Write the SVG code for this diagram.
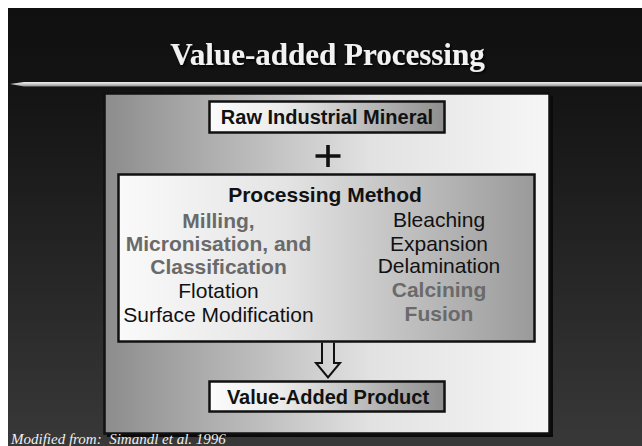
<svg xmlns="http://www.w3.org/2000/svg" width="642" height="446" viewBox="0 0 642 446">
  <defs>
    <linearGradient id="bg" x1="0" y1="0" x2="0" y2="1">
      <stop offset="0" stop-color="#101010"/>
      <stop offset="0.2" stop-color="#141414"/>
      <stop offset="1" stop-color="#383838"/>
    </linearGradient>
    <linearGradient id="rule" x1="0" y1="0" x2="0" y2="1">
      <stop offset="0" stop-color="#f0f0f0"/>
      <stop offset="0.5" stop-color="#c8c8c8"/>
      <stop offset="1" stop-color="#8a8a8a"/>
    </linearGradient>
    <linearGradient id="panelFill" x1="0" y1="0" x2="1" y2="0">
      <stop offset="0" stop-color="#8c8c8c"/>
      <stop offset="0.6" stop-color="#e2e2e2"/>
      <stop offset="1" stop-color="#f6f6f6"/>
    </linearGradient>
    <linearGradient id="boxFill" x1="0" y1="0" x2="1" y2="0">
      <stop offset="0" stop-color="#fbfbfb"/>
      <stop offset="0.3" stop-color="#ececec"/>
      <stop offset="1" stop-color="#8e8e8e"/>
    </linearGradient>
    <linearGradient id="procFill" x1="0" y1="0" x2="1" y2="0">
      <stop offset="0" stop-color="#fafafa"/>
      <stop offset="0.4" stop-color="#e4e4e4"/>
      <stop offset="1" stop-color="#9a9a9a"/>
    </linearGradient>
    <filter id="tshadow" x="-5%" y="-20%" width="110%" height="140%">
      <feDropShadow dx="1.5" dy="1.5" stdDeviation="0.8" flood-color="#000" flood-opacity="0.9"/>
    </filter>
  </defs>
  <style>
    .title { font-family: "Liberation Serif", "Times New Roman", serif; font-weight: bold; font-size: 31px; fill: #f2f2f2; }
    .foot { font-family: "Liberation Serif", "Times New Roman", serif; font-style: italic; font-size: 15px; fill: #f0f0f0; white-space: pre; }
    .box { stroke: #111; stroke-width: 2.5; }
    .lbl { font-family: "Liberation Sans", Arial, sans-serif; font-weight: bold; font-size: 20px; fill: #111; text-anchor: middle; }
    .item { font-family: "Liberation Sans", Arial, sans-serif; font-size: 21px; fill: #111; text-anchor: middle; }
    .hot { font-family: "Liberation Sans", Arial, sans-serif; font-size: 21px; font-weight: bold; fill: #6a6a6a; text-anchor: middle; }
    .conn { fill: none; stroke: #111; stroke-width: 2; stroke-linejoin: miter; }
  </style>

  <rect x="0" y="0" width="642" height="446" fill="#ffffff"/>
  <rect x="8" y="8" width="634" height="438" fill="url(#bg)"/>

  <g id="title">
    <text class="title" x="327.5" y="65" text-anchor="middle" filter="url(#tshadow)">Value-added Processing</text>
    <path d="M10,84 L24,82 H642 V86.5 H24 Z" fill="url(#rule)"/>
  </g>

  <g id="panel">
    <rect x="107" y="96" width="446" height="341" fill="#0a0a0a"/>
    <rect x="104.5" y="93.5" width="445" height="340" fill="url(#panelFill)" class="box"/>
  </g>

  <g id="raw-mineral">
    <rect x="209.5" y="101.5" width="235" height="31" fill="url(#boxFill)" class="box"/>
    <text class="lbl" x="327" y="124">Raw Industrial Mineral</text>
  </g>

  <g id="plus">
    <path d="M315.5,156 H340.5 M328,145 V167" stroke="#111" stroke-width="3.6" fill="none"/>
  </g>

  <g id="processing-method">
    <rect x="118.5" y="174.5" width="416" height="167" fill="url(#procFill)" class="box"/>
    <text class="lbl" x="325" y="202" style="font-size:21px">Processing Method</text>
    <text class="hot" x="218.5" y="228">Milling,</text>
    <text class="hot" x="218.5" y="251">Micronisation, and</text>
    <text class="hot" x="218.5" y="274">Classification</text>
    <text class="item" x="218.5" y="298">Flotation</text>
    <text class="item" x="218.5" y="322">Surface Modification</text>
    <text class="item" x="439" y="227">Bleaching</text>
    <text class="item" x="439" y="251">Expansion</text>
    <text class="item" x="439" y="273">Delamination</text>
    <text class="hot" x="439" y="297">Calcining</text>
    <text class="hot" x="439" y="321">Fusion</text>
  </g>

  <g id="connectors">
    <path class="conn" d="M322,342.5 V363 H316 L328,377.5 L340,363 H334 V342.5"/>
  </g>

  <g id="value-added-product">
    <rect x="209.5" y="381.5" width="235" height="30" fill="url(#boxFill)" class="box"/>
    <text class="lbl" x="328" y="404">Value-Added Product</text>
  </g>

  <g id="footnote">
    <text class="foot" x="11" y="444" xml:space="preserve">Modified from:  Simandl et al. 1996</text>
  </g>
</svg>
